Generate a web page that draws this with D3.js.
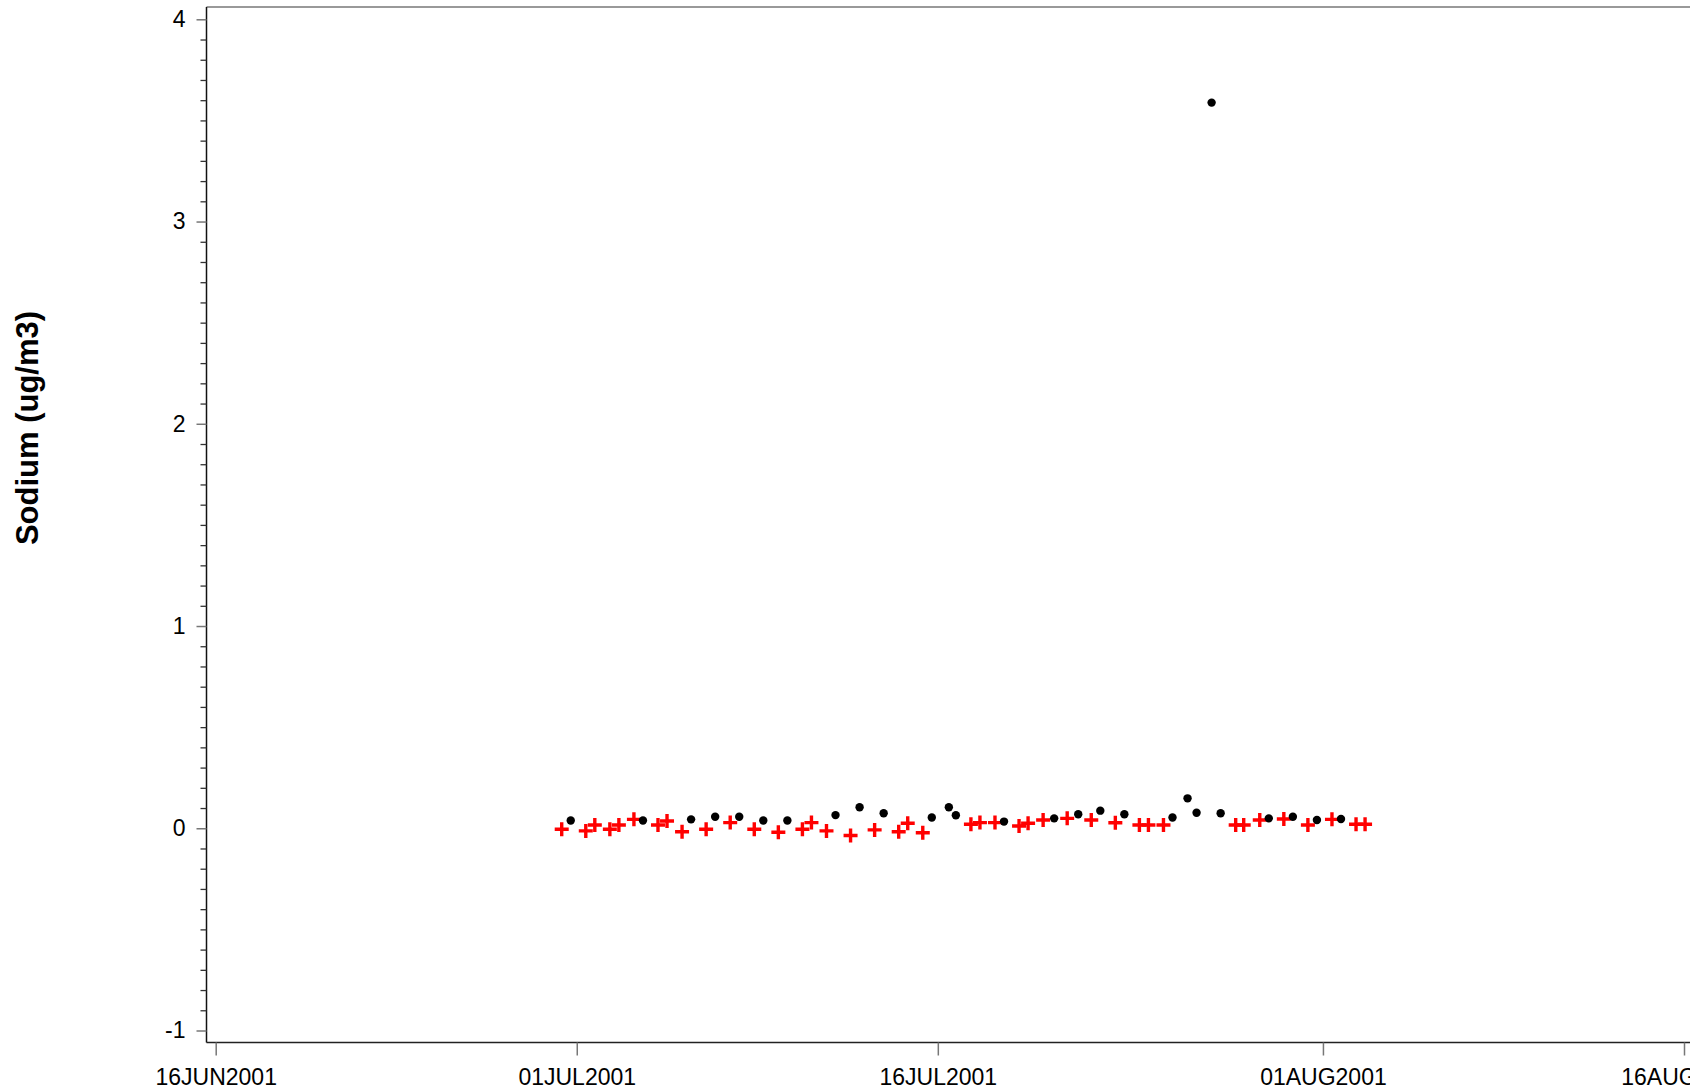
<!DOCTYPE html>
<html>
<head>
<meta charset="utf-8">
<script src="https://cdn.jsdelivr.net/npm/d3@7"></script>
<style>
  html, body { margin: 0; padding: 0; background: #fff; }
  svg { display: block; font-family: "Liberation Sans", Arial, sans-serif; }
</style>
</head>
<body>
<svg id="chart" width="1690" height="1089"></svg>
<script>
// ---- data ----
const yTickValues = [-1, 0, 1, 2, 3, 4];
const yTickLabels = ["-1", "0", "1", "2", "3", "4"];
const xTickDates = ["2001-06-16", "2001-07-01", "2001-07-16", "2001-08-01", "2001-08-16"];
const xTickLabels = ["16JUN2001", "01JUL2001", "16JUL2001", "01AUG2001", "16AUG2001"];
const yTitle = "Sodium (ug/m3)";

// black dots series
const dotTimes = [
  "2001-06-30T18:00", "2001-07-03T18:00", "2001-07-05T18:00", "2001-07-06T18:00",
  "2001-07-07T18:00", "2001-07-08T18:00", "2001-07-09T18:00", "2001-07-11T18:00",
  "2001-07-12T18:00", "2001-07-13T18:00", "2001-07-15T18:00", "2001-07-16T11:00",
  "2001-07-16T18:00", "2001-07-18T18:00", "2001-07-20T20:00", "2001-07-21T20:00",
  "2001-07-22T18:00", "2001-07-23T18:00", "2001-07-25T18:00", "2001-07-26T09:00",
  "2001-07-26T18:00", "2001-07-27T09:00", "2001-07-27T18:00", "2001-07-29T18:00",
  "2001-07-30T18:00", "2001-07-31T18:00", "2001-08-01T18:00"
];
const dotValues = [
  0.038, 0.038, 0.044, 0.057,
  0.057, 0.038, 0.038, 0.065,
  0.104, 0.074, 0.053, 0.104,
  0.064, 0.033, 0.049, 0.069,
  0.087, 0.069, 0.053, 0.148,
  0.077, 3.588, 0.074, 0.049,
  0.057, 0.041, 0.046
];

// red plus series
const plusTimes = [
  "2001-06-30T09:00", "2001-07-01T09:00", "2001-07-01T18:00", "2001-07-02T09:00",
  "2001-07-02T18:00", "2001-07-03T09:00", "2001-07-04T09:00", "2001-07-04T18:00",
  "2001-07-05T09:00", "2001-07-06T09:00", "2001-07-07T09:00", "2001-07-08T09:00",
  "2001-07-09T09:00", "2001-07-10T09:00", "2001-07-10T18:00", "2001-07-11T09:00",
  "2001-07-12T09:00", "2001-07-13T09:00", "2001-07-14T09:00", "2001-07-14T18:00",
  "2001-07-15T09:00", "2001-07-17T09:00", "2001-07-17T18:00", "2001-07-18T09:00",
  "2001-07-19T09:00", "2001-07-19T18:00", "2001-07-20T09:00", "2001-07-21T09:00",
  "2001-07-22T09:00", "2001-07-23T09:00", "2001-07-24T09:00", "2001-07-24T18:00",
  "2001-07-25T09:00", "2001-07-28T09:00", "2001-07-28T17:00", "2001-07-29T09:00",
  "2001-07-30T09:00", "2001-07-31T09:00", "2001-08-01T09:00", "2001-08-02T09:00",
  "2001-08-02T18:00"
];
const plusValues = [
  -0.005, -0.013, 0.016, -0.005,
  0.016, 0.044, 0.016, 0.036,
  -0.017, -0.005, 0.028, -0.005,
  -0.020, -0.005, 0.028, -0.013,
  -0.036, -0.008, -0.017, 0.025,
  -0.022, 0.020, 0.028, 0.028,
  0.011, 0.025, 0.041, 0.049,
  0.041, 0.027, 0.016, 0.016,
  0.016, 0.016, 0.016, 0.041,
  0.046, 0.016, 0.044, 0.020,
  0.020
];

// ---- layout ----
const parseDay = d3.timeParse("%Y-%m-%d");
const parseTime = d3.timeParse("%Y-%m-%dT%H:%M");
const FONT = '"Liberation Sans", Arial, sans-serif';

const frame = { left: 206.5, top: 7, right: 1700, bottom: 1042.5 };

const x = d3.scaleTime()
  .domain([parseDay(xTickDates[0]), parseDay(xTickDates[xTickDates.length - 1])])
  .range([215.7, 1684]);

const y = d3.scaleLinear()
  .domain([-1, 4])
  .range([1030.5, 19.3]);

const svg = d3.select("#chart");
svg.append("rect").attr("width", 1690).attr("height", 1089).attr("fill", "#fff");

// frame
svg.append("line").attr("x1", frame.left).attr("x2", frame.right)
  .attr("y1", frame.top).attr("y2", frame.top)
  .attr("stroke", "#777").attr("stroke-width", 1.5);
svg.append("line").attr("x1", frame.left).attr("x2", frame.right)
  .attr("y1", frame.bottom).attr("y2", frame.bottom)
  .attr("stroke", "#222").attr("stroke-width", 1.5);
svg.append("line").attr("x1", frame.left).attr("x2", frame.left)
  .attr("y1", frame.top).attr("y2", frame.bottom)
  .attr("stroke", "#111").attr("stroke-width", 1.5);

// y axis: minor ticks
const minorVals = d3.range(-10, 41).map(v => v / 10).filter(v => Math.abs(v - Math.round(v)) > 1e-9);
const yMinor = d3.axisLeft(y).tickValues(minorVals).tickSize(6).tickFormat("").tickSizeOuter(0);
svg.append("g").attr("transform", `translate(${frame.left},0)`).call(yMinor)
  .call(g => g.select(".domain").remove())
  .call(g => g.selectAll(".tick line").attr("stroke", "#333").attr("stroke-width", 1.3));

// y axis: major ticks
const yMajor = d3.axisLeft(y).tickValues(yTickValues).tickSize(10).tickPadding(11)
  .tickFormat((d, i) => yTickLabels[i]).tickSizeOuter(0);
svg.append("g").attr("transform", `translate(${frame.left},0)`).call(yMajor)
  .call(g => g.select(".domain").remove())
  .call(g => g.selectAll(".tick line").attr("stroke", "#777").attr("stroke-width", 1.5))
  .call(g => g.selectAll(".tick text")
    .attr("fill", "#000")
    .style("font-family", FONT)
    .style("font-size", "23px"));

// x axis
const xAxis = d3.axisBottom(x)
  .tickValues(xTickDates.map(parseDay))
  .tickSize(13)
  .tickFormat((d, i) => xTickLabels[i])
  .tickSizeOuter(0);
svg.append("g").attr("transform", `translate(0,${frame.bottom})`).call(xAxis)
  .call(g => g.select(".domain").remove())
  .call(g => g.selectAll(".tick line").attr("stroke", "#777").attr("stroke-width", 1.5))
  .call(g => g.selectAll(".tick text")
    .attr("fill", "#000")
    .attr("y", 42).attr("dy", 0)
    .style("font-family", FONT)
    .style("font-size", "23px"));

// y title
svg.append("text")
  .attr("transform", "translate(27,428) rotate(-90)")
  .attr("text-anchor", "middle")
  .attr("dominant-baseline", "central")
  .style("font-family", FONT)
  .style("font-weight", "bold")
  .style("font-size", "31px")
  .attr("fill", "#000")
  .text(yTitle);

// data
const dots = dotTimes.map((t, i) => ({ t: parseTime(t), v: dotValues[i] }));
const pluses = plusTimes.map((t, i) => ({ t: parseTime(t), v: plusValues[i] }));

svg.append("g").selectAll("path").data(pluses).join("path")
  .attr("transform", d => `translate(${x(d.t)},${y(d.v)})`)
  .attr("d", "M-7,0H7M0,-7V7")
  .attr("stroke", "#ff0000")
  .attr("stroke-width", 3.4)
  .attr("fill", "none");

svg.append("g").selectAll("circle").data(dots).join("circle")
  .attr("cx", d => x(d.t))
  .attr("cy", d => y(d.v))
  .attr("r", 4.2)
  .attr("fill", "#000");
</script>
</body>
</html>
